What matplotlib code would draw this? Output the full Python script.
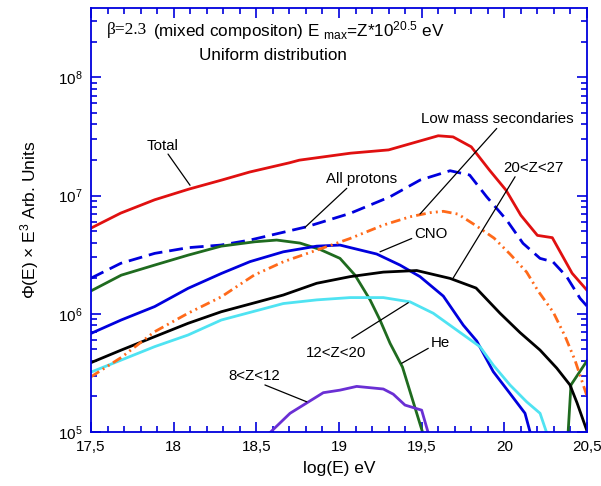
import numpy as np
import matplotlib
matplotlib.use("Agg")
import matplotlib.pyplot as plt
from matplotlib.ticker import MultipleLocator, LogLocator, FuncFormatter, NullFormatter

plt.rcParams['font.family'] = ['Liberation Sans', 'DejaVu Sans']
plt.rcParams['mathtext.fontset'] = 'custom'
plt.rcParams['mathtext.rm'] = 'Liberation Sans'
plt.rcParams['mathtext.it'] = 'Liberation Sans:italic'

# spectra, log10(E/eV) vs flux*E^3 (arb. units)
total_x = [17.5, 17.68, 17.885, 18.09, 18.29, 18.46, 18.7, 18.76, 19.07, 19.3,
           19.6, 19.69, 19.8, 19.91, 20.01, 20.1, 20.2, 20.29, 20.41, 20.5]
total_y = [5.3e6, 7.1e6, 9.2e6, 1.13e7, 1.35e7, 1.58e7, 1.89e7, 1.99e7, 2.28e7, 2.43e7,
           3.2e7, 3.13e7, 2.58e7, 1.64e7, 1.11e7, 6.8e6, 4.6e6, 4.4e6, 2.2e6, 1.58e6]

prot_x = [17.5, 17.68, 17.885, 18.087, 18.286, 18.462, 18.805, 19.067, 19.309, 19.49,
          19.672, 19.79, 19.893, 20.014, 20.113, 20.216, 20.294, 20.377, 20.458, 20.5]
prot_y = [2.0e6, 2.67e6, 3.24e6, 3.62e6, 3.81e6, 4.2e6, 5.44e6, 7.06e6, 9.76e6, 1.35e7,
          1.62e7, 1.49e7, 9.76e6, 6.2e6, 3.94e6, 2.94e6, 2.75e6, 2.06e6, 1.35e6, 1.16e6]

he_x = [17.5, 17.683, 17.885, 18.087, 18.288, 18.49, 18.623, 18.764, 18.885, 19.006,
        19.097, 19.188, 19.248, 19.309, 19.384, 19.51, np.nan, 20.385, 20.403, 20.5]
he_y = [1.56e6, 2.12e6, 2.58e6, 3.13e6, 3.73e6, 4.06e6, 4.2e6, 3.96e6, 3.5e6, 2.94e6,
        2.12e6, 1.31e6, 8.85e5, 5.62e5, 3.54e5, 9.5e4, np.nan, 9.5e4, 2.5e5, 4.0e5]

cno_x = [17.5, 17.683, 17.885, 18.087, 18.288, 18.462, 18.663, 18.865, 19.006, 19.067,
         19.228, 19.369, 19.49, 19.631, 19.752, 19.833, 19.933, 20.034, 20.125, 20.16]
cno_y = [6.82e5, 8.86e5, 1.15e6, 1.64e6, 2.19e6, 2.76e6, 3.34e6, 3.73e6, 3.81e6, 3.63e6,
         3.2e6, 2.58e6, 2.06e6, 1.41e6, 8.0e5, 5.88e5, 3.24e5, 2.12e5, 1.44e5, 9.5e4]

z12_x = [17.5, 17.683, 17.885, 18.087, 18.288, 18.51, 18.663, 18.865, 19.067, 19.268,
         19.43, 19.57, 19.712, 19.853, 19.933, 20.034, 20.135, 20.216, 20.26]
z12_y = [3.21e5, 4.06e5, 5.27e5, 6.61e5, 8.85e5, 1.07e6, 1.22e6, 1.31e6, 1.37e6, 1.37e6,
         1.26e6, 1.01e6, 7.28e5, 5.26e5, 3.68e5, 2.5e5, 1.8e5, 1.44e5, 9.5e4]

z20_x = [17.5, 17.683, 17.885, 18.087, 18.288, 18.51, 18.663, 18.865, 19.067, 19.268,
         19.47, 19.672, 19.829, 19.974, 20.095, 20.216, 20.317, 20.397, 20.44, 20.5]
z20_y = [3.86e5, 4.93e5, 6.4e5, 8.3e5, 1.04e6, 1.26e6, 1.44e6, 1.81e6, 2.06e6, 2.25e6,
         2.32e6, 1.99e6, 1.65e6, 1.01e6, 6.93e5, 4.93e5, 3.47e5, 2.5e5, 1.76e5, 1.02e5]

lms_x = [17.5, 17.683, 17.885, 18.087, 18.288, 18.486, 18.663, 18.865, 19.067, 19.268,
         19.43, 19.551, 19.631, 19.72, 19.833, 19.938, 20.034, 20.135, 20.204, 20.296,
         20.367, 20.427, 20.5]
lms_y = [2.93e5, 4.27e5, 7.05e5, 1.01e6, 1.39e6, 2.12e6, 2.75e6, 3.45e6, 4.33e6, 5.62e6,
         6.61e6, 7.16e6, 7.35e6, 6.96e6, 5.51e6, 4.36e6, 3.2e6, 2.25e6, 1.56e6, 1.03e6,
         6.47e5, 4.06e5, 2.01e5]

z8_x = [18.58, 18.704, 18.905, 19.006, 19.107, 19.268, 19.328, 19.399, 19.5, 19.54]
z8_y = [9.8e4, 1.44e5, 2.15e5, 2.26e5, 2.43e5, 2.31e5, 2.09e5, 1.69e5, 1.53e5, 9.8e4]

fig = plt.figure(figsize=(6.01, 4.86), dpi=100)
ax = fig.add_axes([0.1514, 0.1111, 0.8253, 0.8724])

blue = '#0000dd'
ax.plot(total_x, total_y, color='#e01010', lw=2)
ax.plot(prot_x, prot_y, color=blue, lw=2, dashes=(5, 2.5))
ax.plot(he_x, he_y, color='#1f6b1f', lw=2)
ax.plot(cno_x, cno_y, color=blue, lw=2)
ax.plot(z12_x, z12_y, color='#4fe3f2', lw=2)
ax.plot(z20_x, z20_y, color='black', lw=2)
ax.plot(lms_x, lms_y, color='#ff6a1a', lw=2, dashes=(3.5, 1.5, 0.7, 1.5, 0.7, 1.5))
ax.plot(z8_x, z8_y, color='#6a2fd4', lw=2)

ax.set_yscale('log')
ax.set_xlim(17.5, 20.5)
ax.set_ylim(1e5, 3.85e8)

ax.xaxis.set_major_locator(MultipleLocator(0.5))
ax.xaxis.set_minor_locator(MultipleLocator(0.1))
ax.xaxis.set_major_formatter(FuncFormatter(lambda v, p: f'{v:g}'.replace('.', ',')))
ax.yaxis.set_major_locator(LogLocator(base=10))
ax.yaxis.set_minor_locator(LogLocator(base=10, subs=np.arange(2, 10)))
ax.yaxis.set_minor_formatter(NullFormatter())

for s in ax.spines.values():
    s.set_color(blue)
    s.set_linewidth(1.3)
ax.tick_params(which='both', direction='in', top=True, right=True, color=blue,
               labelsize=11, width=1.2)
ax.tick_params(which='major', length=7, pad=6)
ax.tick_params(which='minor', length=4)

ax.set_xlabel('log(E) eV', fontsize=12.5, labelpad=5)
ax.set_ylabel(r'$\Phi$(E) $\times$ E$^3$ Arb. Units', fontsize=12.5, labelpad=12)

# header text
ax.text(0.032, 0.948, 'β=2.3', transform=ax.transAxes, fontsize=12.5,
        family='Liberation Serif', va='center', ha='left')
ax.text(0.125, 0.948, r'(mixed compositon) E $_{\rm max}$=Z*10$^{20.5}$ eV',
        transform=ax.transAxes, fontsize=12.3, va='center', ha='left')
ax.text(0.367, 0.889, 'Uniform distribution', transform=ax.transAxes,
        fontsize=12.3, va='center', ha='center')

# curve labels with leader lines
labels = [
    ('Total', (17.935, 2.62e7), (17.966, 2.24e7), (18.099, 1.22e7)),
    ('All protons', (19.139, 1.38e7), (19.047, 1.15e7), (18.794, 5.37e6)),
    ('Low mass secondaries', (19.956, 4.43e7), (19.954, 3.69e7), (19.49, 6.97e6)),
    ('20<Z<27', (20.176, 1.72e7), (20.065, 1.44e7), (19.691, 2.01e6)),
    ('CNO', (19.559, 4.72e6), (19.44, 4.33e6), (19.248, 3.34e6)),
    ('12<Z<20', (18.982, 4.7e5), (19.077, 6.2e5), (19.419, 1.24e6)),
    ('He', (19.614, 5.71e5), (19.54, 5.1e5), (19.379, 3.81e5)),
    ('8<Z<12', (18.489, 2.97e5), (18.552, 2.5e5), (18.805, 1.8e5)),
]
for txt, tpos, p0, p1 in labels:
    ax.text(tpos[0], tpos[1], txt, fontsize=10.8, ha='center', va='center')
    ax.annotate('', xy=p1, xytext=p0,
                arrowprops=dict(arrowstyle='-', color='black', lw=0.9,
                                shrinkA=0, shrinkB=0))

fig.savefig('out.png', dpi=100)
